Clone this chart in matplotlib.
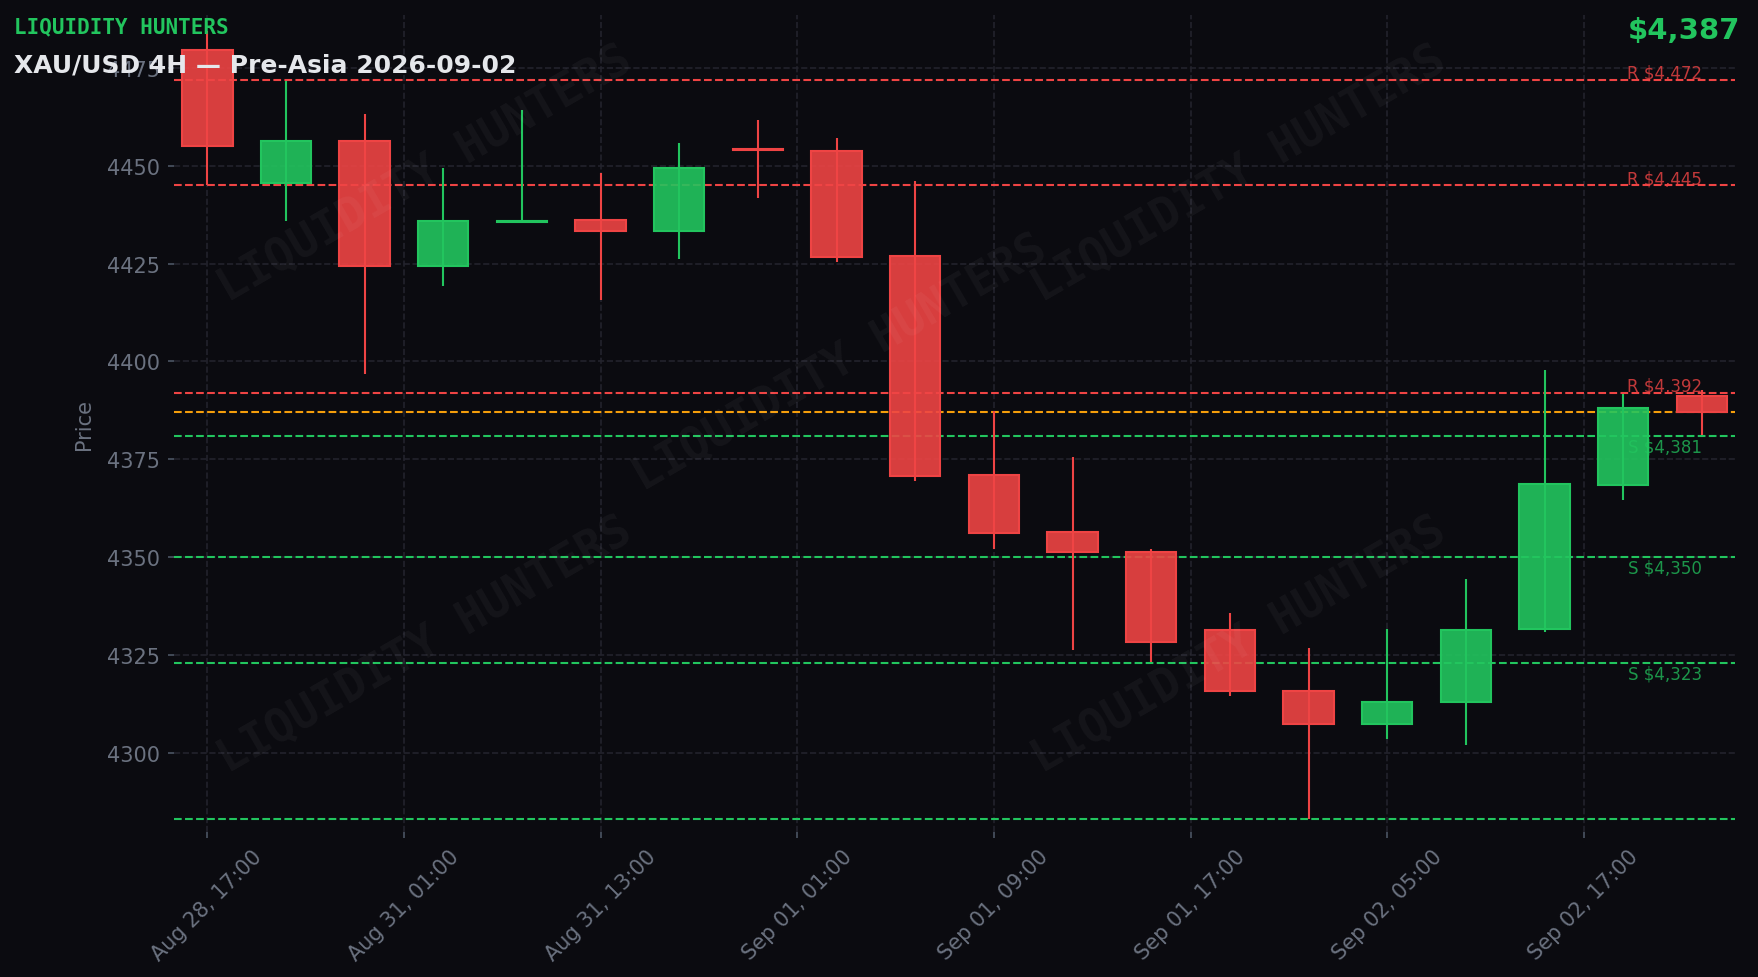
import numpy as np
import matplotlib
matplotlib.use("Agg")
import matplotlib.pyplot as plt
from matplotlib.patches import Rectangle

# ---------------- data ----------------
times = ["Aug 28, 17:00", "Aug 28, 21:00", "Aug 31, 01:00", "Aug 31, 05:00",
         "Aug 31, 09:00", "Aug 31, 13:00", "Aug 31, 17:00", "Aug 31, 21:00",
         "Sep 01, 01:00", "Sep 01, 05:00", "Sep 01, 09:00", "Sep 01, 13:00",
         "Sep 01, 17:00", "Sep 01, 21:00", "Sep 02, 01:00", "Sep 02, 05:00",
         "Sep 02, 09:00", "Sep 02, 13:00", "Sep 02, 17:00", "Sep 02, 21:00"]
opens  = [4479.6, 4445.5, 4456.4, 4424.5, 4435.5, 4436.1, 4433.3, 4454.3, 4453.8, 4426.9,
          4370.9, 4356.4, 4351.4, 4331.5, 4315.9, 4307.4, 4313.0, 4331.7, 4368.5, 4391.3]
highs  = [4484.4, 4471.7, 4463.2, 4449.4, 4464.2, 4448.1, 4455.8, 4461.7, 4457.1, 4446.1,
          4387.3, 4375.6, 4352.1, 4335.8, 4326.8, 4331.7, 4344.5, 4397.9, 4391.7, 4392.6]
lows   = [4445.2, 4436.0, 4396.7, 4419.4, 4435.5, 4415.8, 4426.2, 4441.8, 4425.5, 4369.4,
          4352.0, 4326.4, 4323.2, 4314.6, 4283.1, 4303.6, 4301.9, 4331.0, 4364.7, 4381.3]
closes = [4455.0, 4456.4, 4424.5, 4435.8, 4435.9, 4433.3, 4449.3, 4453.9, 4426.6, 4370.8,
          4356.1, 4351.3, 4328.3, 4315.8, 4307.4, 4313.1, 4331.5, 4368.6, 4388.2, 4387.0]
resistance = [4472, 4445, 4392]
support = [4381, 4350, 4323]
extra_support = [4283]
current_price = 4387
brand = "LIQUIDITY HUNTERS"
title = "XAU/USD 4H \u2014 Pre-Asia 2026-09-02"

# ---------------- style ----------------
BG = "#0b0b10"
RED = "#ef4444"
GREEN = "#22c55e"
ORANGE = "#f59e0b"
GRID = "#23232c"
TICK = "#6b7280"

fig = plt.figure(figsize=(11.72, 6.52), dpi=150, facecolor=BG)
ax = fig.add_axes([0.0987, 0.1483, 0.8882, 0.8353])
ax.set_facecolor(BG)

n = len(opens)
x = np.arange(n)
w = 0.64
for i in x:
    o, h, l, c = opens[i], highs[i], lows[i], closes[i]
    col = GREEN if c >= o else RED
    ax.vlines(i, l, h, color=col, lw=1.0, zorder=3)
    bottom = min(o, c)
    height = abs(c - o)
    ax.add_patch(Rectangle((i - w / 2, bottom), w, height, facecolor=col, alpha=0.9,
                           edgecolor="none", zorder=4))
    ax.add_patch(Rectangle((i - w / 2, bottom), w, height, facecolor="none",
                           edgecolor=col, lw=1.0, zorder=5))

# levels
for v in resistance:
    ax.axhline(v, color=RED, ls="--", lw=1.0, zorder=2)
    ax.annotate(f"R ${v:,.0f}", xy=(n - 1, v), xytext=(0, 1.0), textcoords="offset points",
                ha="right", va="baseline", fontsize=8, color=RED, alpha=0.8, zorder=6)
for v in support:
    ax.axhline(v, color=GREEN, ls="--", lw=1.0, zorder=2)
    ax.annotate(f"S ${v:,.0f}", xy=(n - 1, v), xytext=(0, -0.8), textcoords="offset points",
                ha="right", va="top", fontsize=8, color=GREEN, alpha=0.75, zorder=6)
for v in extra_support:
    ax.axhline(v, color=GREEN, ls="--", lw=1.0, zorder=2)
ax.axhline(current_price, color=ORANGE, ls="--", lw=1.0, zorder=2)

ax.set_xlim(-0.43, n - 1 + 0.42)
ax.set_ylim(4279.8, 4488.5)

ticks = np.arange(0, n, 2.5)
ax.set_xticks(ticks)
ax.set_xticklabels([times[int(round(t))] for t in ticks], rotation=45, ha="center")
ax.set_yticks([4300, 4325, 4350, 4375, 4400, 4425, 4450, 4475])
ax.tick_params(colors="#4b5563", labelcolor=TICK, labelsize=10, length=3)
ax.set_ylabel("Price", color=TICK, fontsize=10, labelpad=6)
ax.grid(True, color=GRID, ls="--", lw=0.8, zorder=0)
for s in ax.spines.values():
    s.set_visible(False)

# watermarks
for (fx, fy) in [(0.242, 0.822), (0.478, 0.628), (0.705, 0.822), (0.242, 0.340), (0.705, 0.340)]:
    fig.text(fx, fy, brand, rotation=30, ha="center", va="center", rotation_mode="anchor",
             fontsize=22, fontweight="bold", family="DejaVu Sans Mono",
             color="white", alpha=0.045, zorder=1)

fig.text(0.008, 1 - 33.3 / 978, brand, ha="left", va="baseline", fontsize=10,
         fontweight="bold", family="DejaVu Sans Mono", color=GREEN, zorder=10)
fig.text(0.008, 1 - 72.7 / 978, title, ha="left", va="baseline", fontsize=12,
         fontweight="bold", color="#e5e7eb", zorder=10)
fig.text(0.990, 1 - 39 / 978, f"${current_price:,.0f}", ha="right", va="baseline",
         fontsize=14, fontweight="bold", color=GREEN, zorder=10)

fig.savefig("out.png", dpi=150, facecolor=BG)
